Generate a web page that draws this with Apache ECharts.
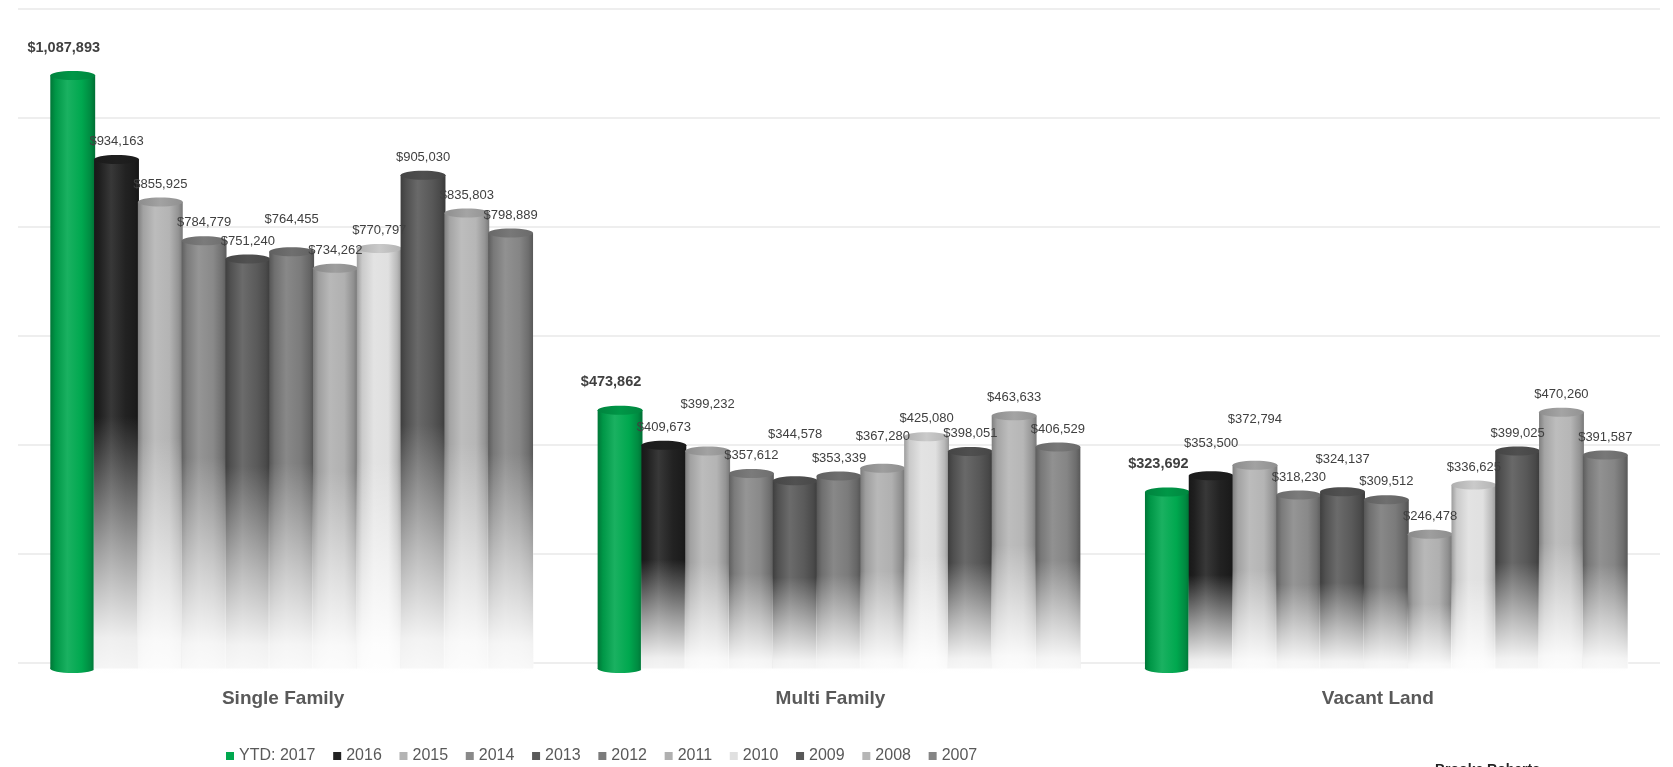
<!DOCTYPE html>
<html><head><meta charset="utf-8">
<script src="https://cdn.jsdelivr.net/npm/echarts@6/dist/echarts.min.js"></script>
<style>html,body{margin:0;padding:0;background:#fff}#c{width:1673px;height:767px}</style>
</head><body><div id="c"></div>
<script>
const categories = ['Single Family', 'Multi Family', 'Vacant Land'];
const years = ['YTD: 2017', '2016', '2015', '2014', '2013', '2012', '2011', '2010', '2009', '2008', '2007'];
const singleFamily = [1087893, 934163, 855925, 784779, 751240, 764455, 734262, 770797, 905030, 835803, 798889];
const multiFamily  = [473862, 409673, 399232, 357612, 344578, 353339, 367280, 425080, 398051, 463633, 406529];
const vacantLand   = [323692, 353500, 372794, 318230, 324137, 309512, 246478, 336625, 399025, 470260, 391587];
const yMin = 0, yMax = 1200000, yInterval = 200000;
const colors = ['#00a84f', '#222222', '#b4b4b4', '#898989', '#5a5a5a', '#7b7b7b', '#b0b0b0', '#e0e0e0', '#585858', '#b6b6b6', '#858585'];

const groups = [singleFamily, multiFamily, vacantLand];

function hexToRgb(h) { h = h.replace('#', ''); return [parseInt(h.substr(0,2),16), parseInt(h.substr(2,2),16), parseInt(h.substr(4,2),16)]; }
function shade(hex, f) {
  const c = hexToRgb(hex);
  const r = c.map(v => f <= 1 ? Math.round(v * f) : Math.round(v + (255 - v) * (f - 1)));
  return 'rgb(' + r.join(',') + ')';
}
function fmt(v) { return '$' + v.toLocaleString('en-US'); }
function textW(s, px) {
  let w = 0; for (const ch of s) w += (ch === ',' ? 0.278 : 0.556); return w * px;
}

function geom(api, c, j) {
  const bandW = api.size([1, 0])[0];
  const step = bandW * 0.08, w = bandW * 0.082;
  const base = api.coord([c, 0]);
  const top = api.coord([c, groups[c][j]]);
  return { cx: base[0] + (j - 5) * step, w: w, yVal: top[1], yBase: base[1] };
}

function labelLayout(api, c) {
  const placed = [];
  for (let j = 0; j < years.length; j++) {
    const g = geom(api, c, j);
    const bold = j === 0;
    const txt = fmt(groups[c][j]);
    const px = bold ? 14.5 : 13;
    const w = textW(txt, px) + (bold ? 3 : 2);
    let x = g.cx + (bold ? -9 : 0);
    let y = g.yVal + (bold ? -22 : -12);
    for (let k = 0; k < 3; k++) {
      const hit = placed.some(p => Math.abs(p.x - x) < (p.w + w) / 2 && Math.abs(p.y - y) < 14);
      if (!hit) break;
      y -= 14;
    }
    placed.push({ x, y, w, txt, bold, px });
  }
  return placed;
}

function makeRender(si) {
  return function (params, api) {
    const c = api.value(0);
    const g = geom(api, c, si);
    const col = colors[si];
    const rx = g.w / 2, ry = 4.5, dy = 6;
    const yTop = g.yVal + dy, yBot = g.yBase + dy;
    const body = new echarts.graphic.LinearGradient(0, 0, 1, 0, [
      { offset: 0, color: shade(col, 0.7) },
      { offset: 0.12, color: shade(col, 0.9) },
      { offset: 0.38, color: shade(col, 1.1) },
      { offset: 0.7, color: shade(col, 1.0) },
      { offset: 0.9, color: shade(col, 0.82) },
      { offset: 1, color: shade(col, 0.66) }
    ]);
    const topFill = new echarts.graphic.LinearGradient(0, 0, 1, 0, [
      { offset: 0, color: shade(col, 0.78) },
      { offset: 0.5, color: shade(col, 0.9) },
      { offset: 1, color: shade(col, 0.8) }
    ]);
    const children = [];
    children.push({ type: 'ellipse', shape: { cx: g.cx, cy: yBot, rx: rx, ry: ry },
      style: { fill: si === 0 ? body : 'rgba(238,238,238,0.6)' } });
    children.push({ type: 'rect', shape: { x: g.cx - rx, y: yTop, width: g.w, height: yBot - yTop },
      style: { fill: body } });
    if (si !== 0) {
      children.push({ type: 'rect', shape: { x: g.cx - rx - 0.5, y: yTop, width: g.w + 1, height: yBot - yTop + ry + 1 },
        style: { fill: new echarts.graphic.LinearGradient(0, 0, 0, 1, [
          { offset: 0, color: 'rgba(255,255,255,0)' },
          { offset: 0.5, color: 'rgba(255,255,255,0)' },
          { offset: 0.75, color: 'rgba(255,255,255,0.55)' },
          { offset: 0.93, color: 'rgba(255,255,255,0.92)' },
          { offset: 1, color: 'rgba(255,255,255,0.96)' }
        ]) } });
    }
    children.push({ type: 'ellipse', shape: { cx: g.cx, cy: yTop, rx: rx, ry: ry },
      style: { fill: topFill } });
    const lab = labelLayout(api, c)[si];
    children.push({ type: 'text', z2: 100, style: {
      text: lab.txt, x: lab.x, y: lab.y, align: 'center', verticalAlign: 'middle',
      fill: '#404040', font: (lab.bold ? 'bold ' : '') + lab.px + 'px "Liberation Sans", Arial, sans-serif'
    } });
    return { type: 'group', children: children };
  };
}

const series = years.map((y, si) => ({
  name: y,
  type: 'custom',
  renderItem: makeRender(si),
  itemStyle: { color: colors[si] },
  encode: { x: 0, y: 1 },
  clip: false,
  data: groups.map((arr, c) => [c, arr[si]])
}));

const chart = echarts.init(document.getElementById('c'), null, { renderer: 'canvas' });
chart.setOption({
  animation: false,
  backgroundColor: '#ffffff',
  grid: { left: 18, right: 13, top: 8.5, bottom: 104.5 },
  legend: {
    data: years, left: 221, top: 743, icon: 'rect', itemWidth: 8, itemHeight: 8, itemGap: 17.7,
    textStyle: { fontSize: 16, color: '#595959', fontFamily: '"Liberation Sans", Arial, sans-serif' }
  },
  xAxis: {
    type: 'category', data: categories,
    axisLine: { show: false }, axisTick: { show: false },
    axisLabel: { margin: 27, fontSize: 19, fontWeight: 'bold', color: '#595959', padding: [0, 17, 0, 0],
      fontFamily: '"Liberation Sans", Arial, sans-serif' }
  },
  yAxis: {
    type: 'value', min: yMin, max: yMax, interval: yInterval,
    axisLabel: { show: false }, axisLine: { show: false }, axisTick: { show: false },
    splitLine: { lineStyle: { color: '#eeeeee', width: 2 } }
  },
  graphic: [{ type: 'text', left: 1435, top: 763, style: { text: 'Brooke Roberts', fill: '#222',
    font: 'bold 14px "Liberation Sans", Arial, sans-serif' } }],
  series: series
});
</script></body></html>
